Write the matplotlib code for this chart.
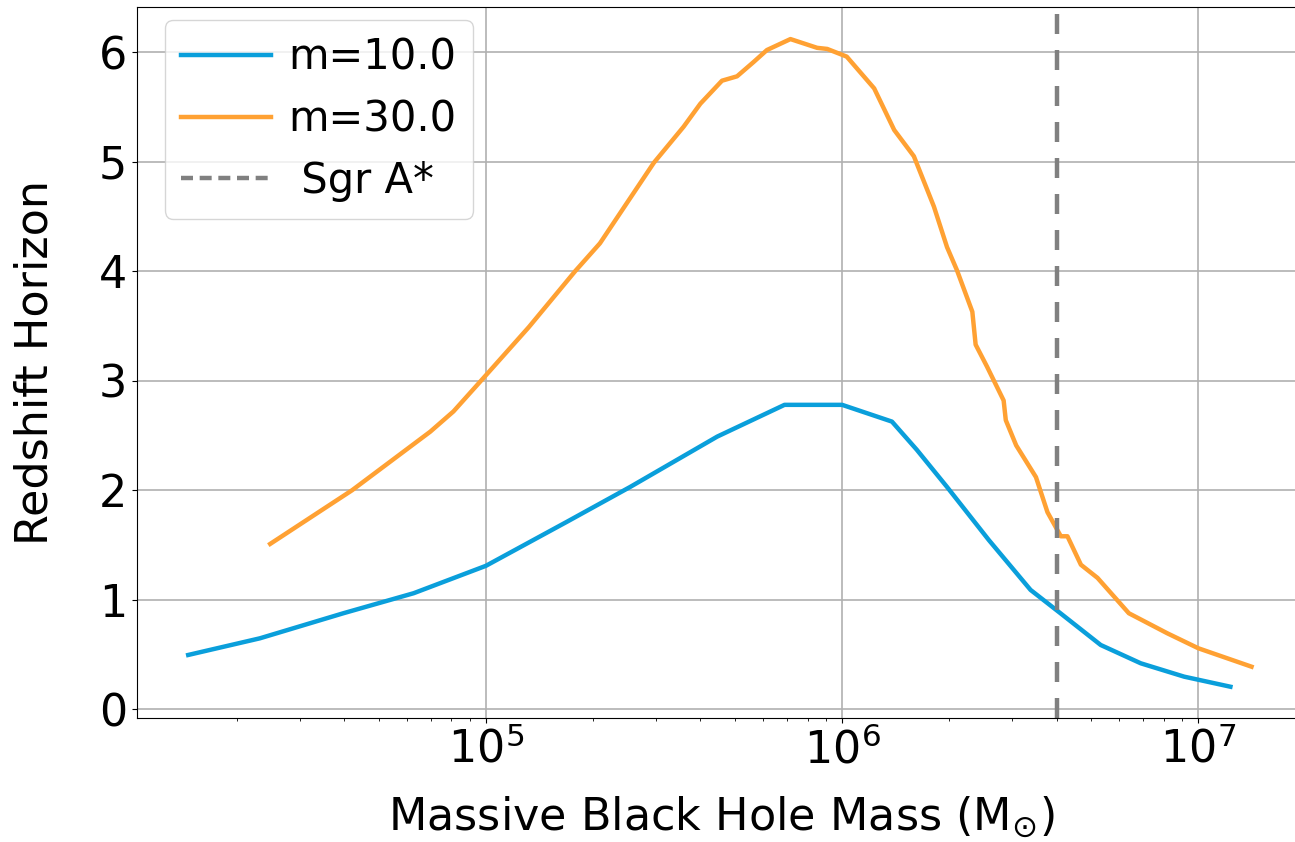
import matplotlib
matplotlib.use("Agg")
import matplotlib.pyplot as plt
from matplotlib.lines import Line2D

# data
mass_m10 = [1.46e4, 2.32e4, 3.98e4, 6.27e4, 1.0e5, 1.69e5, 2.54e5, 4.46e5, 6.89e5,
            1.0e6, 1.38e6, 1.62e6, 1.97e6, 2.58e6, 3.38e6, 4.10e6, 5.32e6, 6.89e6,
            9.12e6, 1.23e7]
z_m10 = [0.496, 0.648, 0.877, 1.06, 1.31, 1.713, 2.03, 2.49, 2.78,
         2.78, 2.627, 2.37, 2.03, 1.546, 1.09, 0.877, 0.587, 0.42,
         0.298, 0.206]

mass_m30 = [2.48e4, 4.21e4, 6.98e4, 8.11e4, 1.0e5, 1.32e5, 1.78e5, 2.09e5, 2.96e5,
            3.59e5, 4.0e5, 4.60e5, 5.07e5, 5.64e5, 6.15e5, 7.16e5, 8.51e5, 9.08e5,
            1.03e6, 1.23e6, 1.40e6, 1.59e6, 1.81e6, 1.97e6, 2.10e6, 2.32e6, 2.37e6,
            2.55e6, 2.84e6, 2.88e6, 3.08e6, 3.50e6, 3.77e6, 4.11e6, 4.29e6, 4.68e6,
            5.21e6, 6.38e6, 8.18e6, 1.0e7, 1.41e7]
z_m30 = [1.51, 2.00, 2.535, 2.72, 3.05, 3.49, 4.00, 4.255, 4.99,
         5.32, 5.53, 5.74, 5.78, 5.91, 6.02, 6.12, 6.04, 6.03,
         5.96, 5.67, 5.29, 5.05, 4.59, 4.22, 4.01, 3.63, 3.33,
         3.13, 2.82, 2.64, 2.41, 2.12, 1.80, 1.58, 1.58, 1.32,
         1.20, 0.877, 0.694, 0.557, 0.389]

sgr_a_mass = 4.0e6

plt.rcParams['font.size'] = 32

fig = plt.figure(figsize=(12.95, 8.42), dpi=100)
ax = fig.add_axes([0.1056, 0.1476, 0.902, 0.8437])

l1, = ax.plot(mass_m10, z_m10, color='#0a9fdb', lw=3.2, label='m=10.0')
l2, = ax.plot(mass_m30, z_m30, color='#ffa133', lw=3.2, label='m=30.0')
ax.axvline(sgr_a_mass, color='gray', lw=3.2, dashes=(4.5, 3.6))
# legend handle for the vertical line has a shorter dash
sgr = Line2D([], [], color='gray', lw=3.2, dashes=(2.7, 1.5), label=' Sgr A*')

ax.set_xscale('log')
ax.set_xlim(1.047e4, 1.99e7)
ax.set_ylim(-0.077, 6.41)
ax.grid(True, which='major', color='#b0b0b0', lw=1.2)

ax.set_xlabel(r'Massive Black Hole Mass (M$_{\odot}$)', labelpad=16)
ax.set_ylabel('Redshift Horizon', labelpad=30)

ax.legend(handles=[l1, l2, sgr], loc='upper left', bbox_to_anchor=(0.024, 0.982),
          borderaxespad=0, fontsize=30, handlelength=2.16, handletextpad=0.4,
          labelspacing=0.47)

fig.savefig('out.png', dpi=100)
